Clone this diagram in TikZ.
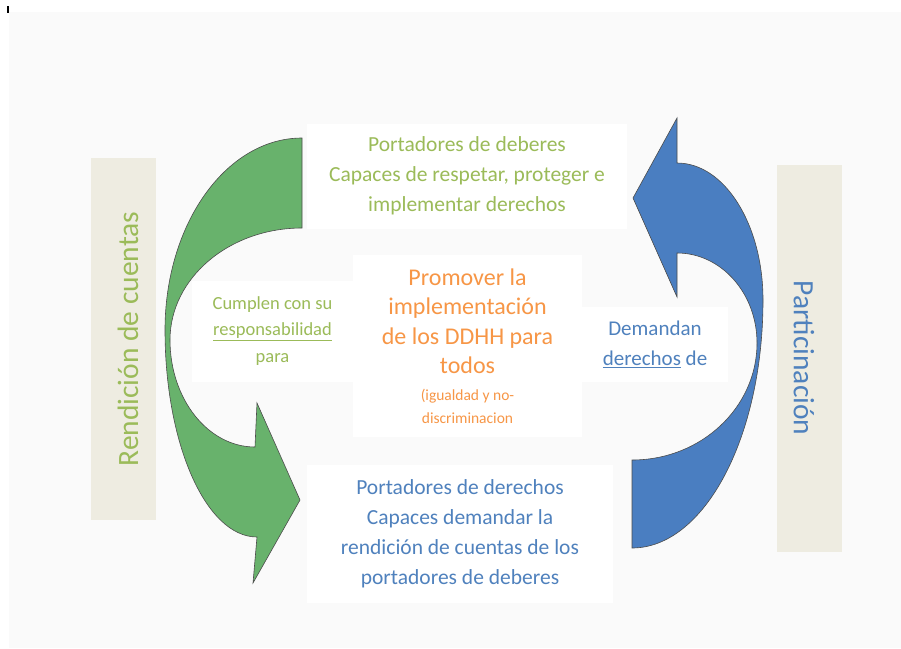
\documentclass[tikz,border=0pt]{standalone}
\usepackage{fontspec}
\setmainfont{Carlito}
\usepackage{tikz}
\usetikzlibrary{positioning}

\definecolor{txtgreen}{HTML}{9BBB59}
\definecolor{txtblue}{HTML}{4F81BD}
\definecolor{txtorange}{HTML}{F79646}
\definecolor{arrgreen}{RGB}{104,178,108}
\definecolor{arrblue}{RGB}{74,126,193}
\definecolor{barbeige}{HTML}{EEECE1}
\definecolor{paper}{HTML}{FAFAFA}

\begin{document}
\begin{tikzpicture}[x=1pt, y=-1pt,
  box/.style = {fill=white, inner sep=0pt, align=center},
  bar/.style = {fill=barbeige, inner sep=0pt},
  bartext/.style = {inner sep=0pt, font=\fontsize{29.5}{34}\selectfont},
  ribbon/.style = {draw=black!70, line width=0.6pt}]
            \useasboundingbox (0,0) rectangle (901,648);
            \fill[paper] (9,12) rectangle (901,648);
            \draw[line width=1.5pt] (8,6) -- (8,13);
            % Bars
            \node[bar, minimum width=65pt, minimum height=362pt] (leftbar) at (123.5,339) {};
            \node[bar, minimum width=65pt, minimum height=387pt] (rightbar) at (809.5,358.5) {};
            \node[bartext, rotate=90, text=txtgreen] (rendicion) at (128,339) {Rendición de cuentas};
            \node[bartext, rotate=-90, text=txtblue] (participacion) at (804,358) {Particinación};
            % Arrows
            \draw[ribbon, fill=arrgreen] (302,138) arc[start angle=-90, end angle=-180, x radius=137, y radius=192]
                arc[start angle=-180, end angle=-270, x radius=92, y radius=207]
                -- (253,583) -- (300,500) -- (257,403) -- (255,447)
                arc[start angle=-270, end angle=-180, x radius=85, y radius=107]
                arc[start angle=-180, end angle=-90, x radius=132, y radius=112] -- cycle;
            \draw[ribbon, fill=arrblue] (677,163) arc[start angle=-90, end angle=0, x radius=86, y radius=137]
                arc[start angle=0, end angle=90, x radius=131, y radius=248]
                -- (632,460)
                arc[start angle=90, end angle=0, x radius=125, y radius=117]
                arc[start angle=0, end angle=-90, x radius=80, y radius=90]
                -- (677,297) -- (633,198) -- (677,118) -- cycle;
            % Nodes
            \node[box, minimum width=320pt, minimum height=105pt, text=txtgreen, font=\fontsize{21.5}{30}\selectfont] (deberes) at (467,176)
                {Portadores de deberes\\ Capaces de respetar, proteger e\\ implementar derechos};
            \node[box, minimum width=306pt, minimum height=138pt, text=txtblue, font=\fontsize{21.5}{30}\selectfont] (derechos) at (460,534)
                {Portadores de derechos\\ Capaces demandar la\\ rendición de cuentas de los\\ portadores de deberes};
            \node[box, minimum width=229pt, minimum height=182pt, text=txtorange, font=\fontsize{24}{29.5}\selectfont] (centro) at (467.5,346)
                {Promover la\\ implementación\\ de los DDHH para\\ todos\\[-3pt] {\fontsize{15.5}{21}\selectfont (igualdad y no-}\\[-6pt] {\fontsize{15.5}{21}\selectfont discriminacion}};
            \node[box, minimum width=161pt, minimum height=101pt, text=txtgreen, font=\fontsize{18.5}{26.5}\selectfont] (cumplen) at (272.5,331)
                {Cumplen con su\\ \underline{responsabilidad}\\ para};
            \node[box, minimum width=146pt, minimum height=75pt, text=txtblue, font=\fontsize{21}{30}\selectfont] (demandan) at (655,344.5)
                {Demandan\\ \underline{derechos} de};
            \end{tikzpicture}
\end{document}
